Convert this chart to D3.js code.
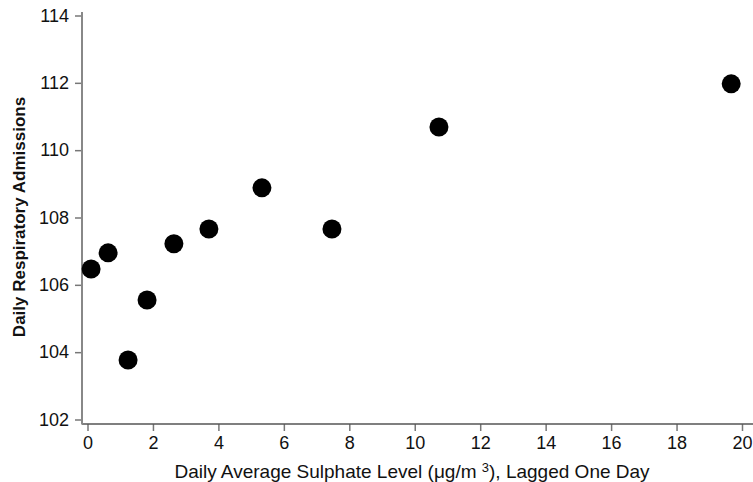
<!DOCTYPE html>
<html>
<head>
<meta charset="utf-8">
<script src="https://cdn.jsdelivr.net/npm/d3@7"></script>
<style>
  body { margin: 0; background: #fff; }
  text { font-family: "Liberation Sans", Arial, sans-serif; }
</style>
</head>
<body>
<div id="chart"></div>
<script>
  // sulphate level (x) vs admissions (y)
  var sulphate   = [0.11, 0.63, 1.24, 1.82, 2.64, 3.71, 5.33, 7.47, 10.74, 19.67];
  var admissions = [106.47, 106.95, 103.77, 105.55, 107.22, 107.66, 108.88, 107.66, 110.69, 111.97];
  var xTicks = [0, 2, 4, 6, 8, 10, 12, 14, 16, 18, 20];
  var yTicks = [102, 104, 106, 108, 110, 112, 114];

  var points = sulphate.map((s, i) => ({x: s, y: admissions[i]}));

  var width = 753, height = 482;

  var svg = d3.select("#chart").append("svg")
      .attr("width", width)
      .attr("height", height);

  var x = d3.scaleLinear().domain([0, 20]).range([87.5, 742]);
  var y = d3.scaleLinear().domain([102, 114]).range([419.5, 15.5]);

  // x axis, sits a bit below the lowest y tick
  var xAxis = svg.append("g")
      .attr("transform", "translate(0,424)")
      .call(d3.axisBottom(x).tickValues(xTicks).tickSize(7).tickPadding(5).tickSizeOuter(0));
  xAxis.select(".domain").remove();
  xAxis.append("line")
      .attr("x1", 82).attr("x2", width)
      .attr("stroke", "#555").attr("stroke-width", 1.5);

  var yAxis = svg.append("g")
      .attr("transform", "translate(82,0)")
      .call(d3.axisLeft(y).tickValues(yTicks).tickSize(7).tickPadding(6).tickSizeOuter(0));
  yAxis.select(".domain").remove();
  yAxis.append("line")
      .attr("y1", 12).attr("y2", 424.5)
      .attr("stroke", "#888").attr("stroke-width", 2);

  svg.selectAll(".tick line").attr("stroke", "#777").attr("stroke-width", 1.5);
  svg.selectAll(".tick text")
      .attr("fill", "#111")
      .style("font-size", "18px");

  svg.selectAll("circle.pt")
      .data(points)
    .enter().append("circle")
      .attr("class", "pt")
      .attr("cx", d => x(d.x))
      .attr("cy", d => y(d.y))
      .attr("r", 9.5)
      .attr("fill", "#000");

  // axis titles
  var xt = svg.append("text")
      .attr("x", 412).attr("y", 478)
      .attr("text-anchor", "middle")
      .style("font-size", "19px")
      .attr("fill", "#111");
  xt.append("tspan").text("Daily Average Sulphate Level (μg/m ");
  xt.append("tspan").attr("dy", -6).style("font-size", "13px").text("3");
  xt.append("tspan").attr("dy", 6).text("), Lagged One Day");

  svg.append("text")
      .attr("transform", "translate(25,217) rotate(-90)")
      .attr("text-anchor", "middle")
      .style("font-size", "17px")
      .style("font-weight", "bold")
      .attr("fill", "#111")
      .text("Daily Respiratory Admissions");
</script>
</body>
</html>
